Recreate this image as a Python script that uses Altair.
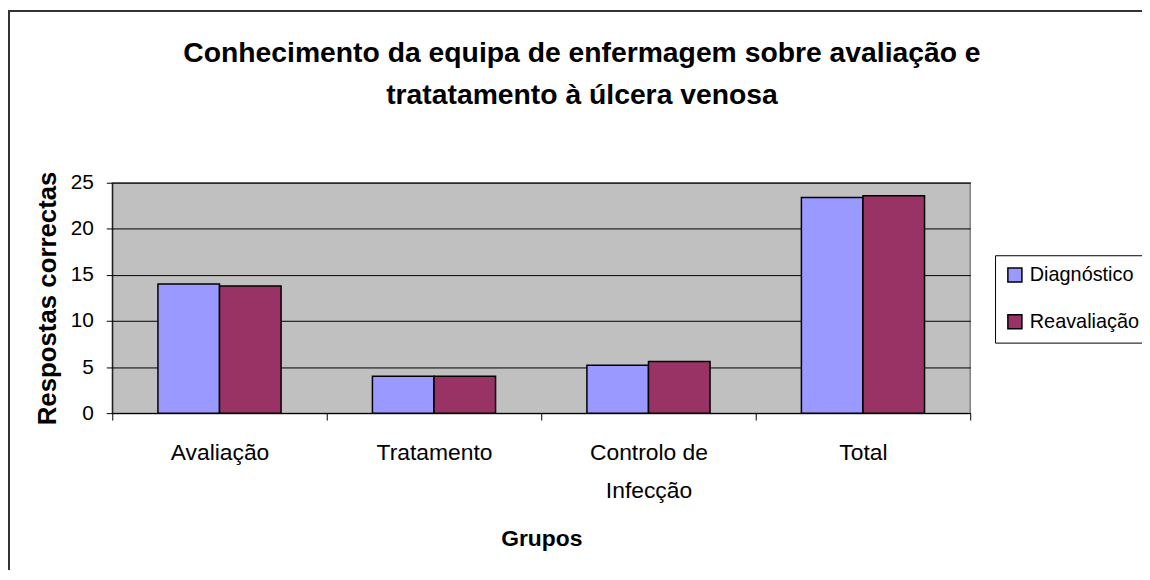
import altair as alt
import pandas as pd

categories = ["Avaliação", "Tratamento", "Controlo de Infecção", "Total"]
series = ["Diagnóstico", "Reavaliação"]
diagnostico = [14.0, 4.0, 5.2, 23.4]
reavaliacao = [13.8, 4.0, 5.6, 23.6]
colors = ["#9999FF", "#993366"]
title_lines = ["Conhecimento da equipa de enfermagem sobre avaliação e",
               "tratatamento à úlcera venosa"]

rows = []
for c, d, r in zip(categories, diagnostico, reavaliacao):
    rows.append({"grupo": c, "serie": series[0], "valor": d})
    rows.append({"grupo": c, "serie": series[1], "valor": r})
df = pd.DataFrame(rows)

FONT = "Liberation Sans"

bars = alt.Chart(df).mark_bar(stroke="black", strokeWidth=1.5).encode(
    x=alt.X("grupo:N", sort=categories,
            scale=alt.Scale(paddingInner=0, paddingOuter=0),
            axis=alt.Axis(title="Grupos", labelAngle=0, tickBand="extent",
                          labelExpr="split(replace(datum.label, ' de ', ' de|'), '|')",
                          labelFontSize=23, labelLineHeight=38, labelPadding=22,
                          labelColor="black", labelFont=FONT,
                          titleFont=FONT, titleFontSize=23, titleFontWeight="bold",
                          titleColor="black", titlePadding=25,
                          domainColor="black", tickColor="black", tickSize=7,
                          grid=False)),
    xOffset=alt.XOffset("serie:N", sort=series,
                        scale=alt.Scale(paddingInner=0, paddingOuter=0.742)),
    y=alt.Y("valor:Q", scale=alt.Scale(domain=[0, 25]),
            axis=alt.Axis(title="Respostas correctas", values=[0, 5, 10, 15, 20, 25],
                          labelFontSize=21, labelColor="black", labelFont=FONT,
                          labelPadding=13,
                          titleFont=FONT, titleFontSize=26, titleFontWeight="bold",
                          titleColor="black", titlePadding=10,
                          domainColor="black", tickColor="black", tickSize=6,
                          grid=True, gridColor="black", gridWidth=1)),
    color=alt.Color("serie:N", sort=series,
                    scale=alt.Scale(domain=series, range=colors),
                    legend=alt.Legend(title=None, orient="none", legendX=889, legendY=73,
                                      symbolType="square", symbolSize=200,
                                      symbolStrokeColor="black", symbolStrokeWidth=1.5,
                                      labelFontSize=20, labelFont=FONT, labelColor="black",
                                      labelLimit=300, labelOffset=5, rowPadding=25,
                                      padding=10,
                                      strokeColor="black", fillColor="white")),
)

border = alt.Chart(alt.Data(values=[{}])).mark_rect(
    fill=None, stroke="#333333", strokeWidth=2
).encode(
    x=alt.value(-104), x2=alt.value(1100), y=alt.value(-173), y2=alt.value(500)
)

title = alt.Chart(alt.Data(values=[{}])).mark_text(
    text=title_lines, font=FONT, fontSize=28.5, fontWeight="bold", color="black",
    align="center", baseline="alphabetic", lineHeight=43
).encode(
    x=alt.value(473), y=alt.value(-122)
)

chart = alt.layer(border, bars, title).properties(
    width=864, height=232,
    autosize=alt.AutoSizeParams(type="none"),
    padding={"left": 105, "top": 174, "right": 173, "bottom": 156},
).configure_view(
    fill="#C0C0C0", stroke="#808080", strokeWidth=1.5
)

chart.save("out.html", embed_options={"renderer": "svg", "actions": False})
